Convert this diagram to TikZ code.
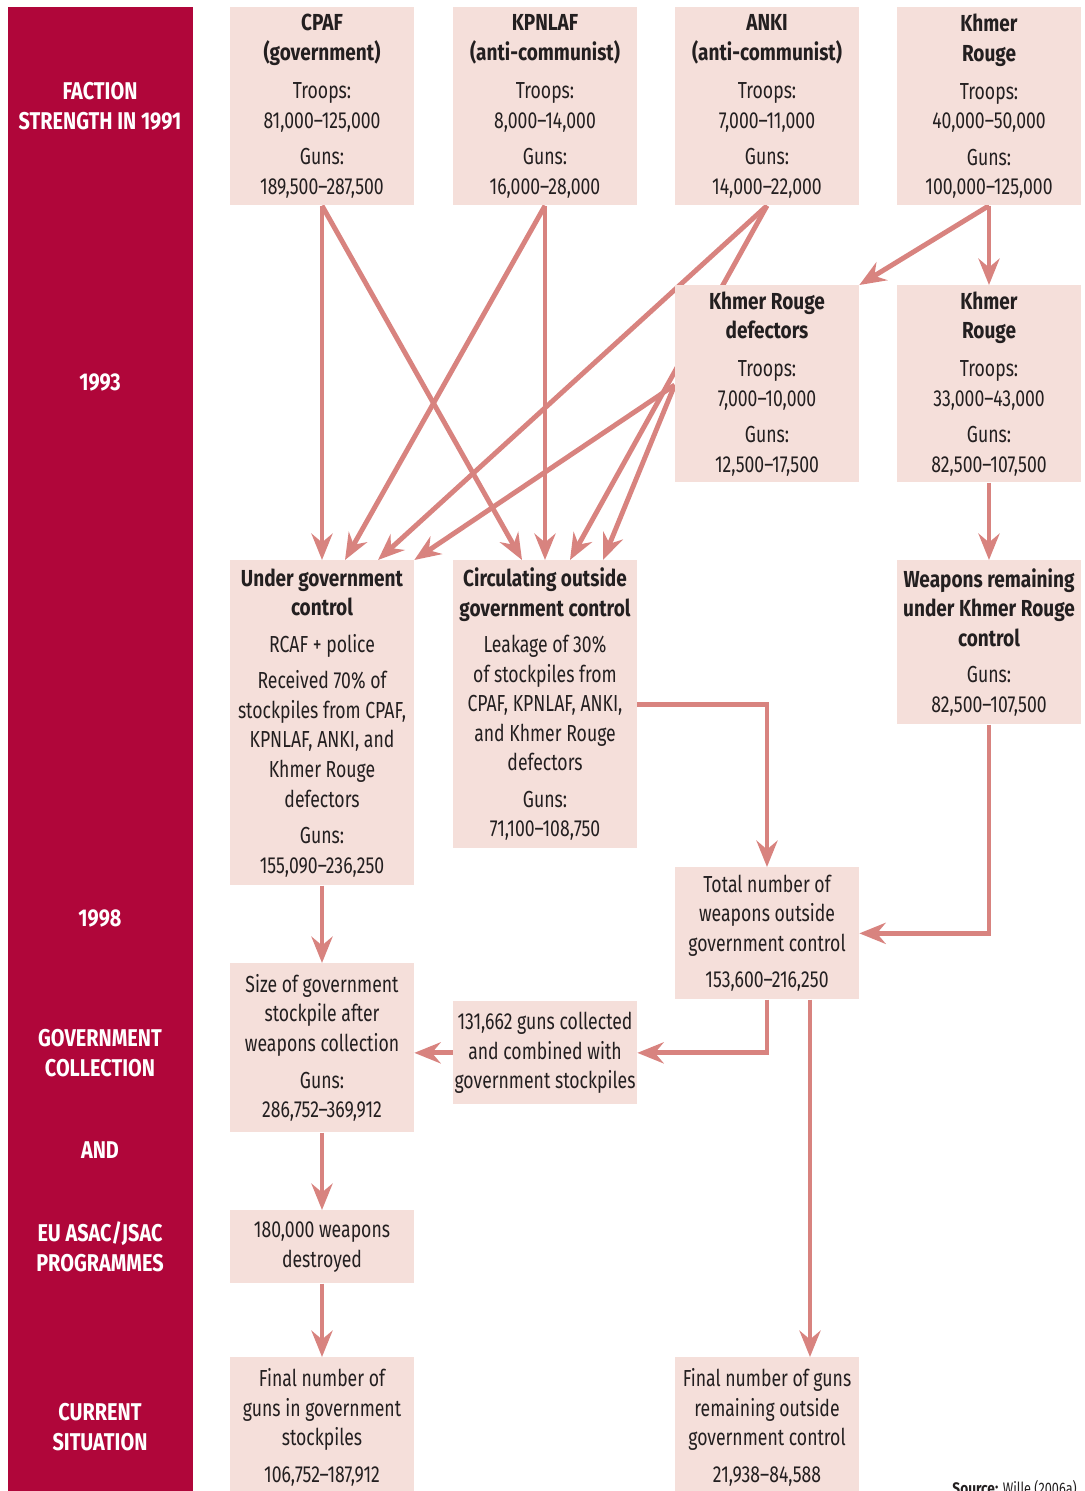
\documentclass[tikz,border=0pt]{standalone}
\usepackage{fontspec}
\setmainfont{Fira Sans}[FakeStretch=0.76, BoldFeatures={FakeStretch=0.82}]
\usepackage{tikz}
\usetikzlibrary{arrows.meta, calc}
\definecolor{sidebar}{HTML}{B0063A}
\definecolor{boxpink}{HTML}{F5DFDA}
\definecolor{arrowred}{HTML}{D8837F}
\definecolor{ink}{HTML}{231F20}
\pgfdeclarelayer{background}
\pgfsetlayers{background,main}
\tikzset{box/.style = {fill = boxpink, text = ink, align = center, anchor = north, inner sep = 0,
                       minimum width = 3.68cm, font = {\fontsize{13.2}{16.8}\selectfont}},
         lab/.style = {text = white, align = center, font = {\bfseries\fontsize{13.8}{16.8}\selectfont}},
         flow/.style = {draw = arrowred, line width = 2.8pt, -{Stealth[length = 15pt, width = 12pt, inset = 5pt]}}}

\begin{document}
\begin{tikzpicture}[x=0.02cm, y=-0.02cm]
    \useasboundingbox (0, 0) rectangle (1085, 1491);
    \fill [sidebar] (8, 7) rectangle (193, 1491);
    \node at (100, 106) [lab] (l91) {FACTION\\STRENGTH IN 1991};
    \node at (100, 382) [lab] (l93) {1993};
    \node at (100, 918) [lab] (l98) {1998};
    \node at (100, 1053) [lab] (lgov) {GOVERNMENT\\COLLECTION};
    \node at (100, 1150) [lab] (land) {AND};
    \node at (100, 1247) [lab] (leu) {EU ASAC/JSAC\\PROGRAMMES};
    \node at (100, 1427) [lab] (lcur) {CURRENT\\SITUATION};

    % 1991
    \node at (322, 7) [box, minimum height = 3.96cm] (cpaf)
        {\textbf{CPAF}\\\textbf{(government)}\\[5pt] Troops:\\81,000--125,000\\[4pt] Guns:\\189,500--287,500};
    \node at (545, 7) [box, minimum height = 3.96cm] (kpnlaf)
        {\textbf{KPNLAF}\\\textbf{(anti-communist)}\\[5pt] Troops:\\8,000--14,000\\[4pt] Guns:\\16,000--28,000};
    \node at (767, 7) [box, minimum height = 3.96cm] (anki)
        {\textbf{ANKI}\\\textbf{(anti-communist)}\\[5pt] Troops:\\7,000--11,000\\[4pt] Guns:\\14,000--22,000};
    \node at (989, 7) [box, minimum height = 3.96cm] (kr91)
        {\textbf{Khmer}\\\textbf{Rouge}\\[5pt] Troops:\\40,000--50,000\\[4pt] Guns:\\100,000--125,000};

    % 1993
    \node at (767, 285) [box, minimum height = 3.94cm] (krdef)
        {\textbf{Khmer Rouge}\\\textbf{defectors}\\[5pt] Troops:\\7,000--10,000\\[4pt] Guns:\\12,500--17,500};
    \node at (989, 285) [box, minimum height = 3.94cm] (kr93)
        {\textbf{Khmer}\\\textbf{Rouge}\\[5pt] Troops:\\33,000--43,000\\[4pt] Guns:\\82,500--107,500};

    % 1998
    \node at (322, 560) [box, minimum height = 6.5cm] (ugc)
        {\textbf{Under government}\\\textbf{control}\\[4pt] RCAF + police\\[4pt] Received 70\% of\\stockpiles from CPAF,\\KPNLAF, ANKI, and\\Khmer Rouge\\defectors\\[4pt] Guns:\\155,090--236,250};
    \node at (545, 560) [box, minimum height = 5.76cm] (circ)
        {\textbf{Circulating outside}\\\textbf{government control}\\[4pt] Leakage of 30\%\\of stockpiles from\\CPAF, KPNLAF, ANKI,\\and Khmer Rouge\\defectors\\[4pt] Guns:\\71,100--108,750};
    \node at (989, 560) [box, minimum height = 3.28cm] (krw)
        {\textbf{Weapons remaining}\\\textbf{under Khmer Rouge}\\\textbf{control}\\[4pt] Guns:\\82,500--107,500};
    \node at (767, 867) [box, minimum height = 2.64cm] (total)
        {Total number of\\weapons outside\\government control\\[4pt] 153,600--216,250};

    % collection and destruction
    \node at (322, 963) [box, minimum height = 3.38cm] (size)
        {Size of government\\stockpile after\\weapons collection\\[4pt] Guns:\\286,752--369,912};
    \node at (545, 1001) [box, minimum height = 2.06cm] (coll)
        {131,662 guns collected\\and combined with\\government stockpiles};
    \node at (322, 1210) [box, minimum height = 1.46cm] (destr)
        {180,000 weapons\\destroyed};

    % now
    \node at (322, 1357) [box, minimum height = 2.8cm] (fingov)
        {Final number of\\guns in government\\stockpiles\\[4pt] 106,752--187,912};
    \node at (767, 1357) [box, minimum height = 2.8cm] (finout)
        {Final number of guns\\remaining outside\\government control\\[4pt] 21,938--84,588};

    \node at (1083, 1494) [anchor = base east, text = ink, font = {\fontsize{9.5}{11}\selectfont}] (src)
        {\textbf{Source:} Wille (2006a)};

    \coordinate (defout) at ($(krdef.north west) + (0, 100)$);

    \begin{pgfonlayer}{background}
        \draw [flow] (cpaf.south) -- (ugc.north);
        \draw [flow] (cpaf.south) -- ($(circ.north) + (-23, 0)$);
        \draw [flow] (kpnlaf.south) -- ($(ugc.north) + (23, 0)$);
        \draw [flow] (kpnlaf.south) -- (circ.north);
        \draw [flow] (anki.south) -- ($(ugc.north) + (56, 0)$);
        \draw [flow] (anki.south) -- ($(circ.north) + (25, 0)$);
        \draw [flow] (defout) -- (ugc.north east);
        \draw [flow] (defout) -- ($(circ.north) + (58, 0)$);
        \draw [flow] (kr91.south) -- (krdef.north east);
        \draw [flow] (kr91.south) -- (kr93.north);
        \draw [flow] (kr93.south) -- (krw.north);
        \draw [flow] (circ.east) -| (total.north);
        \draw [flow] (krw.south) |- (total.east);
        \draw [flow] (ugc.south) -- (size.north);
        \draw [flow] (total.south) |- (coll.east);
        \draw [flow] (coll.west) -- (coll.west -| size.east);
        \draw [flow] (size.south) -- (destr.north);
        \draw [flow] (destr.south) -- (fingov.north);
        \draw [flow] ($(total.south) + (43, 0)$) -- ($(finout.north) + (43, 0)$);
    \end{pgfonlayer}
\end{tikzpicture}
\end{document}
